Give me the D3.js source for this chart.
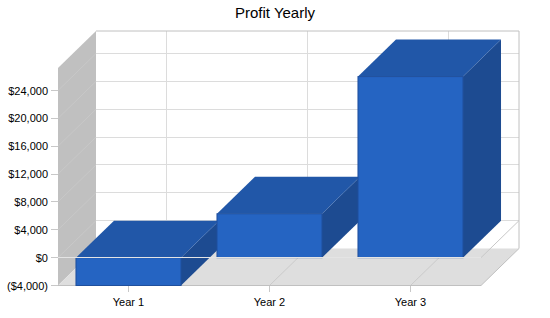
<!DOCTYPE html>
<html><head><meta charset="utf-8">
<script src="https://cdn.jsdelivr.net/npm/d3@7"></script>
<style>body{margin:0;background:#fff}svg{display:block}text{font-family:"Liberation Sans",Arial,sans-serif}</style>
</head><body>
<script>
const categories = ["Year 1", "Year 2", "Year 3"];
const profit = [-4000, 6300, 26000];
const tickValues = [-4000, 0, 4000, 8000, 12000, 16000, 20000, 24000];
const tickLabels = ["($4,000)", "$0", "$4,000", "$8,000", "$12,000", "$16,000", "$20,000", "$24,000"];
const title = "Profit Yearly";

const W = 550, H = 318;
const DX = 38, DY = -37;
const svg = d3.select("body").append("svg").attr("width", W).attr("height", H);

const x = d3.scaleBand().domain(categories).range([58, 481]).padding(0);
const y = d3.scaleLinear().domain([-4000, 24000]).range([285.5, 90.5]);
const yMin = -4000, yTop = y.invert(68);
const barW = x.bandwidth() * 0.745;

const pts = a => a.map(p => p.join(",")).join(" ");
const x0 = x.range()[0], x1 = x.range()[1];
const yb = y(yMin), yt = y(yTop);

// back wall
svg.append("rect").attr("x", x0 + DX).attr("y", yt + DY).attr("width", x1 - x0).attr("height", yb - yt).attr("fill", "#fff");
// left wall
svg.append("polygon").attr("points", pts([[x0, yt], [x0 + DX, yt + DY], [x0 + DX, yb + DY], [x0, yb]])).attr("fill", "#c0c0c0");
// floor
svg.append("polygon").attr("points", pts([[x0, yb], [x1, yb], [x1 + DX, yb + DY], [x0 + DX, yb + DY]])).attr("fill", "#dedede");

// back wall gridlines
svg.selectAll(".bg").data(tickValues.filter(v => v > yMin)).join("line")
  .attr("x1", x0 + DX).attr("x2", x1 + DX).attr("y1", d => y(d) + DY).attr("y2", d => y(d) + DY)
  .attr("stroke", "#dcdcdc").attr("stroke-width", 1).attr("shape-rendering", "crispEdges");
svg.selectAll(".bv").data(categories).join("line")
  .attr("x1", d => x(d) + x.bandwidth() / 2 + DX).attr("x2", d => x(d) + x.bandwidth() / 2 + DX)
  .attr("y1", yt + DY).attr("y2", yb + DY)
  .attr("stroke", "#dcdcdc").attr("shape-rendering", "crispEdges");
// left wall gridlines
svg.selectAll(".lg").data(tickValues.filter(v => v > yMin)).join("line")
  .attr("x1", x0).attr("x2", x0 + DX).attr("y1", d => y(d)).attr("y2", d => y(d) + DY)
  .attr("stroke", "#c8c8c8").attr("stroke-width", 1);
// floor gridlines
svg.selectAll(".fg").data(categories).join("line")
  .attr("x1", d => x(d) + x.bandwidth() / 2).attr("x2", d => x(d) + x.bandwidth() / 2 + DX)
  .attr("y1", yb).attr("y2", yb + DY)
  .attr("stroke", "#cacaca").attr("stroke-width", 1);
// wall borders
svg.append("polyline").attr("points", pts([[x0 + DX, yt + DY], [x1 + DX, yt + DY], [x1 + DX, yb + DY], [x1, yb], [x0, yb]]))
  .attr("fill", "none").attr("stroke", "#c0c0c0").attr("stroke-width", 1);

// zero plane outline
svg.append("polyline").attr("points", pts([[x1 + DX, y(0) + DY], [x1, y(0)]]))
  .attr("fill", "none").attr("stroke", "#c8c8c8");

// bars
const g = svg.append("g");
categories.forEach((c, i) => {
  const v = profit[i];
  const l = x(c) + (x.bandwidth() - barW) / 2, r = l + barW;
  const yT = y(Math.max(v, 0)), yB = y(Math.max(Math.min(v, 0), yMin));
  g.append("polygon").attr("points", pts([[r, yT], [r + DX, yT + DY], [r + DX, yB + DY], [r, yB]])).attr("fill", "#1d4b91");
  g.append("polygon").attr("points", pts([[l, yT], [l + DX, yT + DY], [r + DX, yT + DY], [r, yT]])).attr("fill", "#2157a8");
  g.append("rect").attr("x", l).attr("y", yT).attr("width", barW).attr("height", yB - yT)
    .attr("fill", "#2564c2").attr("stroke", "#1f4f9c").attr("stroke-width", 1);
});

// zero line on front
svg.append("line").attr("x1", 52).attr("x2", x1).attr("y1", y(0)).attr("y2", y(0))
  .attr("stroke", "#e4e4e4").attr("shape-rendering", "crispEdges");

// y axis ticks and labels
svg.selectAll(".yt").data(tickValues).join("line")
  .attr("x1", 51).attr("x2", x0).attr("y1", d => y(d)).attr("y2", d => y(d))
  .attr("stroke", "#c8c8c8").attr("shape-rendering", "crispEdges");
svg.selectAll(".yl").data(tickValues).join("text")
  .attr("x", 48).attr("y", d => y(d) + 4).attr("text-anchor", "end")
  .attr("font-size", 11).attr("fill", "#000").text((d, i) => tickLabels[i]);

// x axis ticks and labels
svg.selectAll(".xt").data(categories).join("line")
  .attr("x1", d => x(d) + x.bandwidth() / 2).attr("x2", d => x(d) + x.bandwidth() / 2)
  .attr("y1", yb).attr("y2", yb + 6).attr("stroke", "#c8c8c8").attr("shape-rendering", "crispEdges");
svg.selectAll(".xl").data(categories).join("text")
  .attr("x", d => x(d) + x.bandwidth() / 2).attr("y", 306).attr("text-anchor", "middle")
  .attr("font-size", 11).attr("fill", "#000").text(d => d);

// title
svg.append("text").attr("x", 275).attr("y", 18).attr("text-anchor", "middle")
  .attr("font-size", 15).attr("fill", "#000").text(title);
</script>
</body></html>
